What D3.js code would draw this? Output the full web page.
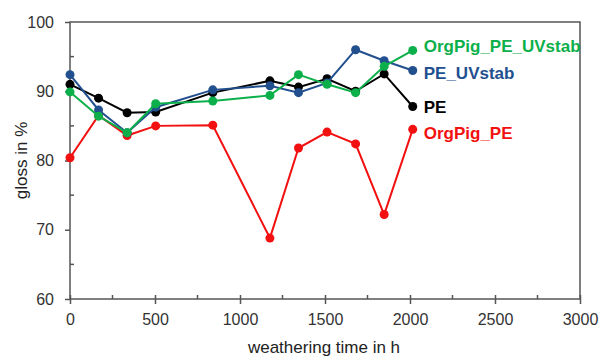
<!DOCTYPE html>
<html>
<head>
<meta charset="utf-8">
<script src="https://cdn.jsdelivr.net/npm/d3@7"></script>
<style>
  body { margin: 0; background: #fff; }
  text { font-family: "Liberation Sans", Arial, sans-serif; }
</style>
</head>
<body>
<svg id="chart" width="601" height="359"></svg>
<script>
// weathering time in h
const hours = [0, 168, 336, 504, 840, 1176, 1344, 1512, 1680, 1848, 2016];

// gloss in % per sample
const orgPigPeUv = [89.9, 86.4, 84.0, 88.2, 88.6, 89.4, 92.4, 91.0, 89.8, 93.6, 95.9];
const peUv = [92.4, 87.3, 84.0, 87.7, 90.2, 90.8, 89.8, 91.2, 96.0, 94.4, 93.0];
const pe = [91.0, 89.0, 86.9, 87.0, 89.8, 91.5, 90.6, 91.8, 90.0, 92.5, 87.8];
const orgPigPe = [80.4, 86.5, 83.6, 85.0, 85.1, 68.8, 81.8, 84.1, 82.4, 72.2, 84.5];

const xTicks = [0, 500, 1000, 1500, 2000, 2500, 3000];
const yTicks = [60, 70, 80, 90, 100];

// labelY = waarde waar het label (basislijn) staat
const series = [
  { name: "OrgPig_PE_UVstab", values: orgPigPeUv, color: "#0cb04a", labelY: 95.7 },
  { name: "PE_UVstab", values: peUv, color: "#22508f", labelY: 91.8 },
  { name: "PE", values: pe, color: "#000000", labelY: 86.9 },
  { name: "OrgPig_PE", values: orgPigPe, color: "#f21010", labelY: 83.1 },
];

const svg = d3.select("#chart");
const m = { left: 70, right: 580, top: 22, bottom: 299 };

const x = d3.scaleLinear().domain([0, 3000]).range([m.left, m.right]);
const y = d3.scaleLinear().domain([60, 100]).range([m.bottom, m.top]);

const axisColor = "#555";

// rahmen
svg.append("rect")
  .attr("x", m.left).attr("y", m.top)
  .attr("width", m.right - m.left).attr("height", m.bottom - m.top)
  .attr("fill", "none").attr("stroke", axisColor).attr("stroke-width", 1.5);

// x-as
const gx = svg.append("g").attr("transform", "translate(0," + m.bottom + ")");
gx.call(d3.axisBottom(x).tickValues(xTicks).tickFormat(d3.format("d")).tickSize(5).tickPadding(10))
  .call((g) => g.select(".domain").remove());
gx.selectAll(".tick line").attr("stroke", axisColor).attr("stroke-width", 1.5).attr("y1", -4);
gx.selectAll("text").attr("font-size", 16).attr("fill", "#333");
gx.selectAll(".minor")
  .data(d3.range(250, 3000, 500))
  .join("line")
  .attr("x1", (d) => x(d)).attr("x2", (d) => x(d))
  .attr("y1", -4).attr("y2", 0)
  .attr("stroke", axisColor).attr("stroke-width", 1.5);

// y-as
const gy = svg.append("g").attr("transform", "translate(" + m.left + ",0)");
gy.call(d3.axisLeft(y).tickValues(yTicks).tickSize(5).tickPadding(11))
  .call((g) => g.select(".domain").remove());
gy.selectAll(".tick line").attr("stroke", axisColor).attr("stroke-width", 1.5).attr("x1", 0);
gy.selectAll("text").attr("font-size", 16).attr("fill", "#333");
gy.selectAll(".minor")
  .data(d3.range(65, 100, 10))
  .join("line")
  .attr("x1", 0).attr("x2", 4)
  .attr("y1", (d) => y(d)).attr("y2", (d) => y(d))
  .attr("stroke", axisColor).attr("stroke-width", 1.5);

// as titels
svg.append("text")
  .attr("x", 324).attr("y", 353)
  .attr("text-anchor", "middle").attr("font-size", 17).attr("fill", "#222")
  .text("weathering time in h");

svg.append("text")
  .attr("transform", "translate(27," + (m.top + m.bottom) / 2 + ") rotate(-90)")
  .attr("text-anchor", "middle").attr("font-size", 17).attr("fill", "#222")
  .text("gloss in %");

// lijnen + punten
const line = d3.line()
  .x((d, i) => x(hours[i]))
  .y((d) => y(d));

const groups = svg.selectAll(".series")
  .data(series.slice().reverse())
  .join("g");

groups.append("path")
  .attr("d", (s) => line(s.values))
  .attr("fill", "none")
  .attr("stroke", (s) => s.color)
  .attr("stroke-width", 2);

groups.selectAll("circle")
  .data((s) => s.values.map((v, i) => ({ v: v, i: i, color: s.color })))
  .join("circle")
  .attr("cx", (d) => x(hours[d.i]))
  .attr("cy", (d) => y(d.v))
  .attr("r", 4.5)
  .attr("fill", (d) => d.color);

// labels
svg.selectAll(".label")
  .data(series)
  .join("text")
  .attr("x", x(2016) + 11)
  .attr("y", (s) => y(s.labelY))
  .attr("font-size", 17)
  .attr("font-weight", "bold")
  .attr("fill", (s) => s.color)
  .text((s) => s.name);
</script>
</body>
</html>
